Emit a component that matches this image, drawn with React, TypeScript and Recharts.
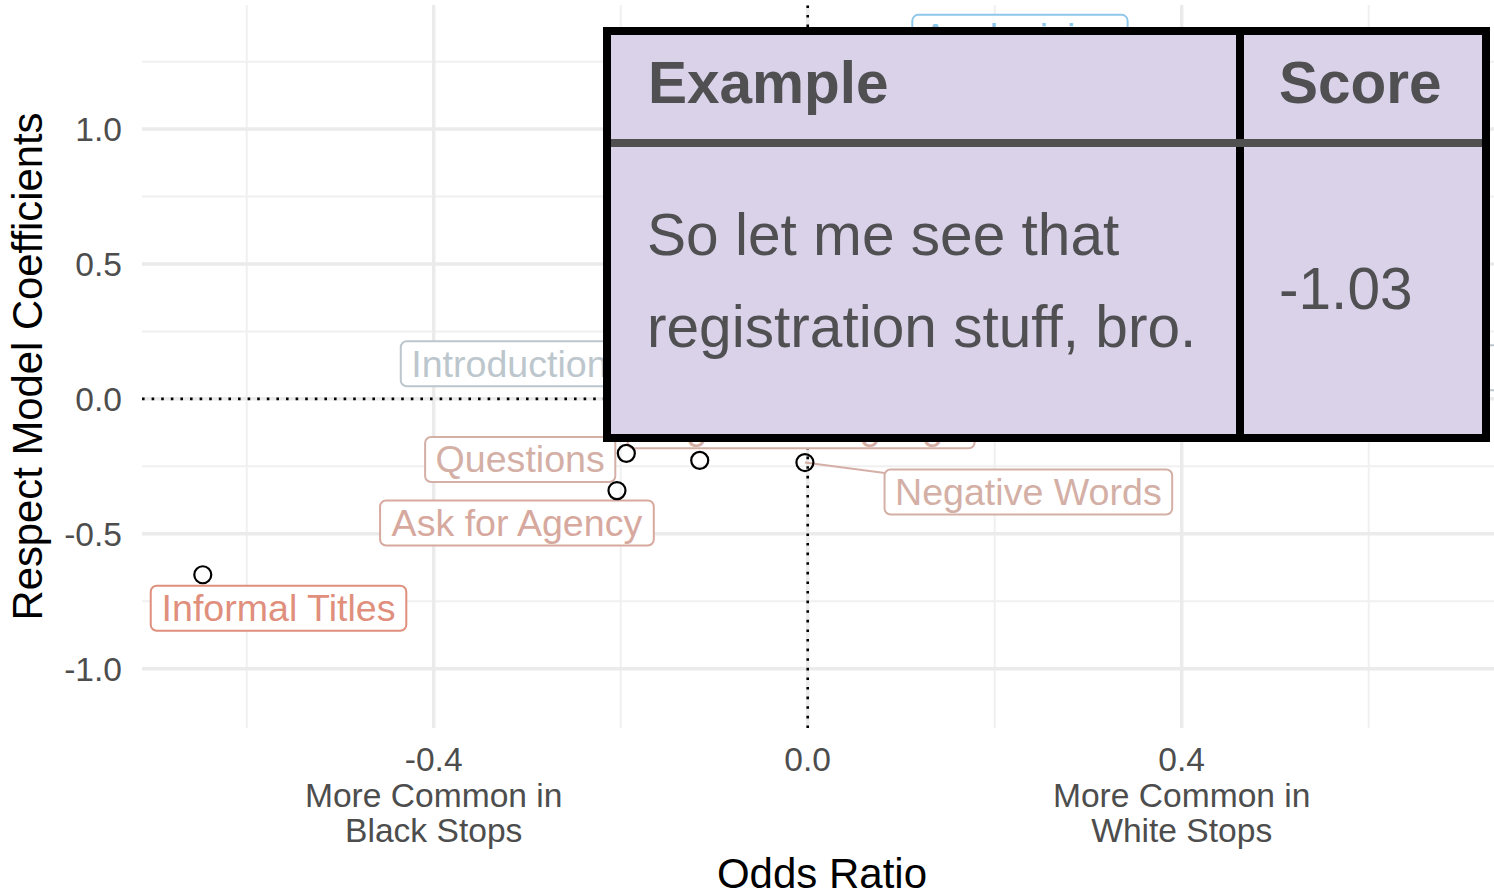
import React from "react";
import { ScatterChart, Scatter, XAxis, YAxis, CartesianGrid, ReferenceLine } from "recharts";

// feature points: odds ratio (x) vs respect model coefficient (y)
const featureNames = [
  "Informal Titles",
  "Ask for Agency",
  "Questions",
  "Negative Language",
  "Negative Words",
  "Introduction",
  "Apologizing",
  "Formal Titles",
];
const oddsRatio = [-0.647, -0.204, -0.194, -0.1155, -0.003, -0.17, 0.3, 0.6];
const respectCoef = [-0.652, -0.34, -0.202, -0.228, -0.236, 0.12, 1.1, 0.05];

// where the repelled labels ended up (data units)
const labelOddsRatio = [-0.566, -0.311, -0.3075, -0.007, 0.236, -0.319, 0.227, 0.851];
const labelRespect = [-0.776, -0.46, -0.2245, -0.1, -0.345, 0.13, 1.34, 0.115];
const leaderLabels = ["Negative Words"];

const majorX = [-0.4, 0, 0.4];
const minorX = [-0.6, -0.2, 0.2, 0.6];
const majorY = [-1, -0.5, 0, 0.5, 1];
const minorY = [-0.75, -0.25, 0.25, 0.75, 1.25];
const xTickLabels = [
  ["-0.4", "More Common in", "Black Stops"],
  ["0.0"],
  ["0.4", "More Common in", "White Stops"],
];
const yTickLabels = ["-1.0", "-0.5", "0.0", "0.5", "1.0"];

const tableHeader = ["Example", "Score"];
const exampleLines = ["So let me see that", "registration stuff, bro."];
const exampleScore = "-1.03";

const X_DOMAIN = [-0.712, 0.734];
const Y_DOMAIN = [-1.22, 1.46];

const FONT = "'Liberation Sans', Arial, Helvetica, sans-serif";
const TICK_COLOR = "#4d4d4d";
const LABEL_SIZE = 37.6;

const labelColors: Record<string, string> = {
  "Informal Titles": "#df8f7c",
  "Ask for Agency": "#d7a99e",
  Questions: "#d4afa6",
  "Negative Language": "#d4afa6",
  "Negative Words": "#d4afa6",
  Introduction: "#bcc6cd",
  Apologizing: "#8ec7ea",
  "Formal Titles": "#bcc6cd",
};

const points = featureNames.map((name, i) => ({ name, x: oddsRatio[i], y: respectCoef[i] }));
const labels = featureNames.map((name, i) => ({ name, x: labelOddsRatio[i], y: labelRespect[i] }));

let ctx: CanvasRenderingContext2D | null = null;
const measure = (s: string, font: string) => {
  if (!ctx) ctx = document.createElement("canvas").getContext("2d");
  if (!ctx) return s.length * 18;
  ctx.font = font;
  return ctx.measureText(s).width;
};

const OpenCircle = (props: any) => {
  const { cx, cy } = props;
  if (cx == null || cy == null) return <g />;
  return <circle cx={cx} cy={cy} r={8.5} fill="none" stroke="#000" strokeWidth={2.2} />;
};

const LabelBox = (props: any) => {
  const { cx, cy, payload } = props;
  if (cx == null || cy == null) return <g />;
  const color = labelColors[payload.name] || "#999";
  const w = measure(payload.name, `${LABEL_SIZE}px ${FONT}`) + 21;
  const h = 45;
  return (
    <g>
      <rect x={cx - w / 2} y={cy - h / 2} width={w} height={h} rx={6} fill="#fff" stroke={color} strokeWidth={2} />
      <text x={cx} y={cy + 13} textAnchor="middle" fontSize={LABEL_SIZE} fontFamily={FONT} fill={color}>
        {payload.name}
      </text>
    </g>
  );
};

const NoShape = () => <g />;

const XTick = (props: any) => {
  const { x, y, payload } = props;
  const lines = xTickLabels[majorX.indexOf(payload.value)] || [];
  return (
    <g>
      {lines.map((t, i) => (
        <text key={i} x={x} y={y + 43 + i * 35.5} textAnchor="middle" fontSize={33.6} fontFamily={FONT} fill={TICK_COLOR}>
          {t}
        </text>
      ))}
    </g>
  );
};

const YTick = (props: any) => {
  const { x, y, payload } = props;
  const t = yTickLabels[majorY.indexOf(payload.value)] ?? "";
  return (
    <text x={x - 20} y={y + 12} textAnchor="end" fontSize={33.6} fontFamily={FONT} fill={TICK_COLOR}>
      {t}
    </text>
  );
};

const XTitle = (props: any) => {
  const vb = props.viewBox || { x: 142, y: 728, width: 1352, height: 168 };
  return (
    <text x={vb.x + vb.width / 2 + 4} y={vb.y + 160} textAnchor="middle" fontSize={42} fontFamily={FONT} fill="#000">
      Odds Ratio
    </text>
  );
};

const YTitle = (props: any) => {
  const vb = props.viewBox || { x: 0, y: 5, width: 142, height: 723 };
  const cy = vb.y + vb.height / 2;
  return (
    <text x={42} y={cy} transform={`rotate(-90, 42, ${cy})`} textAnchor="middle" fontSize={41.8} fontFamily={FONT} fill="#000">
      Respect Model Coefficients
    </text>
  );
};

const ExampleTable = () => (
  <svg width={1494} height={896} style={{ position: "absolute", left: 0, top: 0, pointerEvents: "none" }}>
    <rect x={607} y={31} width={879} height={407} fill="#d9d2e9" stroke="#000" strokeWidth={8} />
    <line x1={1240} y1={31} x2={1240} y2={438} stroke="#000" strokeWidth={8} />
    <line x1={611} y1={143} x2={1482} y2={143} stroke="#505050" strokeWidth={8} />
    <g fontFamily={FONT} fill="#505053">
      <text x={648} y={103} fontWeight="bold" fontSize={58.5}>{tableHeader[0]}</text>
      <text x={1279} y={103} fontWeight="bold" fontSize={58.5}>{tableHeader[1]}</text>
      {exampleLines.map((t, i) => (
        <text key={i} x={647} y={255 + i * 92} fontSize={58.6}>{t}</text>
      ))}
      <text x={1279} y={309} fontSize={58.6}>{exampleScore}</text>
    </g>
  </svg>
);

const App = () => {
  return (
    <div style={{ position: "absolute", left: 0, top: 0, width: 1494, height: 896, background: "#fff" }}>
      <ScatterChart width={1494} height={896} margin={{ top: 5, right: 0, bottom: 0, left: 0 }}>
        <CartesianGrid verticalValues={minorX} horizontalValues={minorY} stroke="#f0f0f0" strokeWidth={2} />
        <CartesianGrid verticalValues={majorX} horizontalValues={majorY} stroke="#ebebeb" strokeWidth={3.5} />
        <XAxis
          type="number"
          dataKey="x"
          domain={X_DOMAIN}
          allowDataOverflow
          ticks={majorX}
          interval={0}
          tick={<XTick />}
          tickSize={0}
          tickMargin={0}
          axisLine={false}
          tickLine={false}
          height={168}
          label={<XTitle />}
        />
        <YAxis
          type="number"
          dataKey="y"
          domain={Y_DOMAIN}
          allowDataOverflow
          ticks={majorY}
          interval={0}
          tick={<YTick />}
          tickSize={0}
          tickMargin={0}
          axisLine={false}
          tickLine={false}
          width={142}
          label={<YTitle />}
        />
        <ReferenceLine x={0} stroke="#000" strokeWidth={2.6} strokeDasharray="2.6 7" />
        <ReferenceLine y={0} stroke="#000" strokeWidth={2.6} strokeDasharray="2.6 7" />
        {leaderLabels.map((name) => {
          const i = featureNames.indexOf(name);
          return (
            <Scatter
              key={name}
              data={[points[i], labels[i]]}
              line={{ stroke: labelColors[name], strokeWidth: 2 }}
              shape={<NoShape />}
              isAnimationActive={false}
            />
          );
        })}
        <Scatter data={labels} shape={<LabelBox />} isAnimationActive={false} />
        <Scatter data={points} shape={<OpenCircle />} isAnimationActive={false} />
      </ScatterChart>
      <ExampleTable />
    </div>
  );
};

export default App;
